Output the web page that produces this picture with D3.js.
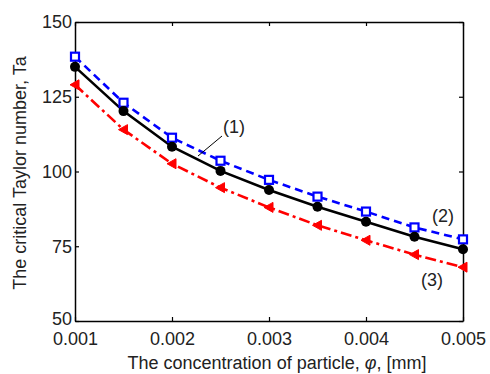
<!DOCTYPE html>
<html>
<head>
<meta charset="utf-8">
<script src="https://cdn.jsdelivr.net/npm/d3@7"></script>
<style>
  body { margin: 0; background: #fff; }
  text { font-family: "Liberation Sans", Arial, sans-serif; }
</style>
</head>
<body>
<svg width="490" height="374"></svg>
<script>
  // concentration values (x) and the three curves
  const phi = [0.001, 0.0015, 0.002, 0.0025, 0.003, 0.0035, 0.004, 0.0045, 0.005];
  const taBlack = [135, 120.2, 108.3, 100.2, 93.8, 88.2, 83.2, 78.2, 74];
  const taBlue = [138.4, 123, 111.3, 103.6, 97.2, 91.6, 86.6, 81.3, 77.3];
  const taRed = [129, 114, 102.6, 94.6, 88, 82, 77, 72.2, 68];
  const xTicks = [0.001, 0.002, 0.003, 0.004, 0.005];
  const yTicks = [50, 75, 100, 125, 150];

  const padL = 75, padR = 463, padT = 22, padB = 321;
  const FS = 18;

  const svg = d3.select("svg");

  const x = d3.scaleLinear().domain([0.001, 0.005]).range([padL, padR]);
  const y = d3.scaleLinear().domain([50, 150]).range([padB, padT]);

  // axes, ticks pointing inward
  svg.append("g")
    .attr("transform", "translate(0," + padB + ")")
    .call(d3.axisBottom(x).tickValues(xTicks).tickSizeInner(-4).tickSizeOuter(0).tickPadding(11).tickFormat(d3.format(".3f")));
  svg.append("g")
    .attr("transform", "translate(0," + padT + ")")
    .call(d3.axisTop(x).tickValues(xTicks).tickSizeInner(-4).tickSizeOuter(0).tickFormat(""));
  svg.append("g")
    .attr("transform", "translate(" + padL + ",0)")
    .call(d3.axisLeft(y).tickValues(yTicks).tickSizeInner(-4).tickSizeOuter(0).tickPadding(3));
  svg.append("g")
    .attr("transform", "translate(" + padR + ",0)")
    .call(d3.axisRight(y).tickValues(yTicks).tickSizeInner(-4).tickSizeOuter(0).tickFormat(""));

  svg.selectAll(".domain").attr("stroke", "#000").attr("stroke-width", 1.5);
  svg.selectAll(".tick line").attr("stroke", "#000").attr("stroke-width", 1.2);
  svg.selectAll(".tick text").attr("font-size", FS).attr("fill", "#222")
    .style("font-family", "'Liberation Sans', Arial, sans-serif");
  // lift "50" a touch so it clears the first x label
  svg.selectAll(".tick text").filter(d => d === 50).attr("dy", "0.2em");

  const line = d3.line().x((d, i) => x(phi[i])).y(d => y(d));

  function series(vals, color, dash) {
    svg.append("path")
      .datum(vals)
      .attr("d", line)
      .attr("fill", "none")
      .attr("stroke", color)
      .attr("stroke-width", 2.6)
      .attr("stroke-dasharray", dash);
  }

  series(taRed, "#ff0000", "11,4,3,4");
  series(taBlue, "#0000ff", "8,5");
  series(taBlack, "#000", null);

  // markers
  svg.selectAll(".mRed").data(taRed).enter().append("path")
    .attr("class", "mRed")
    .attr("transform", (d, i) => "translate(" + x(phi[i]) + "," + y(d) + ")")
    .attr("d", "M-5,0L4,-5L4,5Z")
    .attr("fill", "#ff0000").attr("stroke", "#ff0000").attr("stroke-width", 1);

  svg.selectAll(".mBlue").data(taBlue).enter().append("rect")
    .attr("class", "mBlue")
    .attr("x", (d, i) => x(phi[i]) - 4)
    .attr("y", d => y(d) - 4)
    .attr("width", 8).attr("height", 8)
    .attr("fill", "#fff").attr("stroke", "#0000ff").attr("stroke-width", 2.2);

  svg.selectAll(".mBlack").data(taBlack).enter().append("circle")
    .attr("class", "mBlack")
    .attr("cx", (d, i) => x(phi[i]))
    .attr("cy", d => y(d))
    .attr("r", 5)
    .attr("fill", "#000");

  // curve labels
  const lab = svg.append("g").attr("font-size", FS).attr("fill", "#222");
  lab.append("text").attr("x", 223).attr("y", 133).text("(1)");
  lab.append("text").attr("x", 432).attr("y", 222).text("(2)");
  lab.append("text").attr("x", 421).attr("y", 286).text("(3)");
  svg.append("line")
    .attr("x1", 222).attr("y1", 136).attr("x2", 198).attr("y2", 156)
    .attr("stroke", "#000").attr("stroke-width", 1);

  // axis titles
  const xt = svg.append("text")
    .attr("x", 277).attr("y", 369)
    .attr("text-anchor", "middle")
    .attr("font-size", FS).attr("fill", "#222");
  xt.append("tspan").text("The concentration of particle, ");
  xt.append("tspan").attr("font-style", "italic").text("\u03c6");
  xt.append("tspan").text(", [mm]");

  svg.append("text")
    .attr("transform", "translate(26,173) rotate(-90)")
    .attr("text-anchor", "middle")
    .attr("font-size", FS).attr("fill", "#222")
    .text("The critical Taylor number, Ta");
</script>
</body>
</html>
